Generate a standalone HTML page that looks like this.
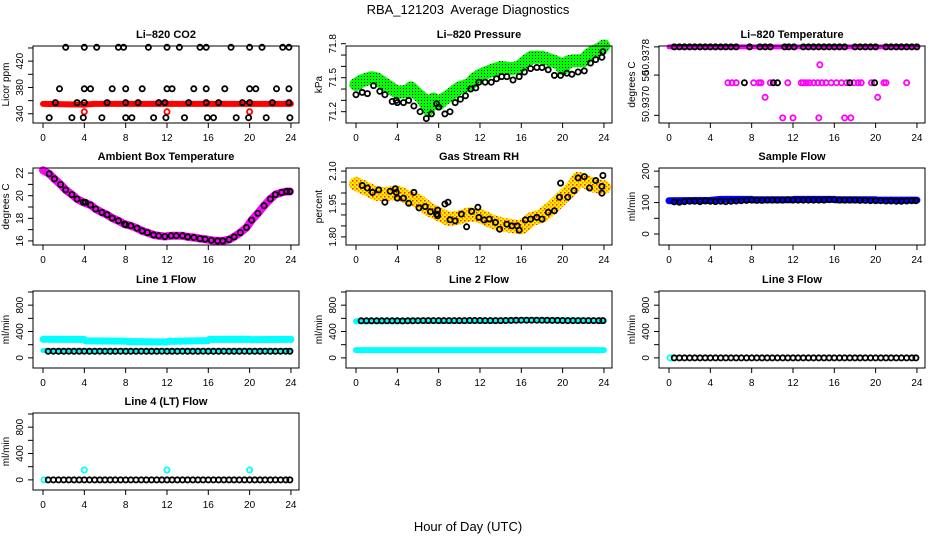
<!DOCTYPE html>
<html><head><meta charset="utf-8"><style>
html,body{margin:0;padding:0;background:#fff;}
svg{display:block;font-family:"Liberation Sans",sans-serif;}
</style></head><body>
<svg id="chart" width="936" height="540" viewBox="0 0 936 540">
<defs>
<pattern id="patGreen" width="3" height="3" patternUnits="userSpaceOnUse"><rect width="3" height="3" fill="#00ff00"/><rect x="1" y="1" width="1" height="1" fill="#000"/></pattern>
<pattern id="patOrange" width="4" height="4" patternUnits="userSpaceOnUse"><rect width="4" height="4" fill="#ffee00"/><rect x="0" y="0" width="1.5" height="1.5" fill="#ff2200"/><rect x="2" y="2" width="1.5" height="1.5" fill="#ff8800"/></pattern>
</defs>
<text x="468" y="14" text-anchor="middle" font-size="13" xml:space="preserve">RBA_121203  Average Diagnostics</text>
<text x="468" y="531" text-anchor="middle" font-size="13">Hour of Day (UTC)</text>
</svg>
<script>
// ---------- data ----------
const xTicks = [0,4,8,12,16,20,24];
const flowHours = [0.5,1,1.5,2,2.5,3,3.5,4,4.5,5,5.5,6,6.5,7,7.5,8,8.5,9,9.5,10,10.5,11,11.5,12,12.5,13,13.5,14,14.5,15,15.5,16,16.5,17,17.5,18,18.5,19,19.5,20,20.5,21,21.5,22,22.5,23,23.5,23.9];

// CO2
const co2TopHours = [2.2,4,5.2,7.3,7.8,10.2,12,13.2,15.2,15.8,18.2,20,21.2,23.2,23.8];
const co2TopVals = [441,441,441,441,441,441,441,441,441,441,441,441,441,441,441];
const co2HiHours = [1.6,4,4.6,6.7,8,9.6,12,12.5,14.6,15.8,17.6,20,20.6,22.6,23.8];
const co2HiVals = [378,378,378,378,378,378,378,378,378,378,378,378,378,378,378];
const co2MidHours = [1.2,3.3,4,6.2,8,9.2,11.2,11.8,14.1,15.8,17,19.3,20,22.2,23.8];
const co2MidVals = [357,357,357,357,357,357,357,357,357,357,357,357,357,357,357];
const co2LowHours = [0.6,2.8,3.9,5.7,8,8.6,10.7,11.9,13.7,15.9,16.5,18.7,19.9,21.6,23.9];
const co2LowVals = [334,334,334,334,334,334,334,334,334,334,334,334,334,334,334];
const co2RedHours = [4,12,20];
const co2RedVals = [343,343,343];
const co2BandHours = [0,4,5,24];
const co2BandVals = [355,354,355,355];

// Pressure
const presBandHours = [0,0.5,1.5,2,3,4,5,5.3,6,6.5,7,7.5,8,8.5,9,10,11,11.5,12,13,14,15,15.8,16,16.5,17,18,19,19.8,20,20.5,21,22,22.5,23,23.5,24];
const presBandVals = [71.44,71.47,71.50,71.49,71.43,71.37,71.38,71.41,71.35,71.31,71.22,71.31,71.27,71.31,71.34,71.41,71.44,71.49,71.52,71.56,71.59,71.58,71.59,71.61,71.65,71.68,71.68,71.65,71.62,71.58,71.64,71.65,71.65,71.70,71.73,71.75,71.78];
const presHours = [0,0.6,1.1,1.7,2.3,2.8,3.5,3.9,4,4.6,5.1,5.6,6.2,6.8,7.3,7.8,8,8.6,9.1,9.6,10.1,10.6,11.1,11.6,11.9,12.5,13.1,13.6,14.1,14.6,15.2,15.8,16.3,16.9,17.5,18,18.6,19.2,19.8,20.4,20.9,21.5,22.1,22.7,23.2,23.8,23.9];
const presVals = [71.35,71.37,71.36,71.43,71.38,71.35,71.29,71.30,71.28,71.28,71.30,71.25,71.20,71.14,71.18,71.27,71.24,71.18,71.20,71.28,71.31,71.34,71.40,71.41,71.46,71.46,71.46,71.49,71.51,71.51,71.48,71.51,71.55,71.58,71.59,71.59,71.57,71.52,71.52,71.54,71.53,71.55,71.56,71.63,71.66,71.68,71.73];

// Li-820 temperature
const ltBandHours = [0,24];
const ltBandVals = [50.9378,50.9378];
const ltTopHours = [0.5,1,1.5,2,2.5,3,3.5,4,4.5,5,5.5,6,6.5,7.8,8.8,9.3,9.8,11.2,11.6,12.1,13,13.5,14,14.5,15,15.5,16,16.5,17,18,18.5,19,19.5,20,21,21.5,22,22.5,23,23.5,24];
const ltTopVals = [50.9378,50.9378,50.9378,50.9378,50.9378,50.9378,50.9378,50.9378,50.9378,50.9378,50.9378,50.9378,50.9378,50.9378,50.9378,50.9378,50.9378,50.9378,50.9378,50.9378,50.9378,50.9378,50.9378,50.9378,50.9378,50.9378,50.9378,50.9378,50.9378,50.9378,50.9378,50.9378,50.9378,50.9378,50.9378,50.9378,50.9378,50.9378,50.9378,50.9378,50.9378];
const ltMagHours = [5.7,6.1,6.5,8.2,8.7,8.9,9.8,11.5,12.8,13,13.3,13.6,14,14.4,14.8,15.2,15.7,16.2,16.7,17.2,17.9,18.3,18.6,19.6,20.8,21,23,9.3,20.2,14.6,11,12,14.5,17,17.6];
const ltMagVals = [50.93738,50.93738,50.93738,50.93738,50.93738,50.93738,50.93738,50.93738,50.93738,50.93738,50.93738,50.93738,50.93738,50.93738,50.93738,50.93738,50.93738,50.93738,50.93738,50.93738,50.93738,50.93738,50.93738,50.93738,50.93738,50.93738,50.93738,50.93721,50.93721,50.93759,50.93697,50.93697,50.93697,50.93697,50.93697];
const ltBlkHours = [7.3,10.1,10.5,17.5,19.9];
const ltBlkVals = [50.93738,50.93738,50.93738,50.93738,50.93738];

// Ambient temperature
const ambBandHours = [0,0.6,1.1,1.7,2.2,2.8,3.3,3.9,4.6,5.1,5.7,6.2,6.7,7.3,7.9,8.5,9.1,9.6,10.1,10.7,11.2,11.8,12.4,12.9,13.5,14,14.6,15.2,15.7,16.3,16.9,17.4,18,18.5,19.1,19.7,20.2,20.8,21.4,22,22.5,23.1,23.6,23.9];
const ambBandVals = [22.25,21.94,21.49,20.99,20.51,20.10,19.71,19.42,19.18,18.82,18.52,18.32,18.02,17.78,17.49,17.34,17.13,16.89,16.74,16.53,16.45,16.39,16.45,16.45,16.45,16.36,16.30,16.21,16.15,16.06,16.0,16.0,16.12,16.36,16.74,17.19,17.84,18.44,19.12,19.71,20.10,20.28,20.37,20.37];
const ambHours = [0.6,1.1,1.7,2.2,2.8,3.3,3.9,4.1,4.6,5.1,5.7,6.2,6.7,7.3,7.9,8,8.5,9.1,9.6,10.1,10.7,11.2,11.8,12.4,12.9,13.5,14,14.6,15.2,15.7,16.3,16.9,17.4,18,18.5,19.1,19.7,20.2,20.8,21.4,22,22.5,23.1,23.6,23.9];
const ambVals = [21.94,21.49,20.99,20.51,20.10,19.71,19.42,19.42,19.18,18.82,18.52,18.32,18.02,17.78,17.49,17.43,17.34,17.13,16.89,16.74,16.53,16.45,16.39,16.45,16.45,16.45,16.36,16.30,16.21,16.15,16.06,16.0,16.0,16.12,16.36,16.74,17.19,17.84,18.44,19.12,19.71,20.10,20.28,20.37,20.37];

// Gas stream RH
const rhBandHours = [0,1,2,3,4,5,6,7,8,9,10,11,12,13,14,15,16,17,18,19,20,21,21.5,22,23,24];
const rhBandVals = [2.042,2.019,1.996,1.996,2.003,1.981,1.965,1.927,1.904,1.881,1.889,1.904,1.896,1.873,1.858,1.850,1.843,1.881,1.896,1.935,1.981,2.026,2.065,2.057,2.034,2.026];
const rhHours = [0.6,1.1,1.6,2.2,2.8,3.3,3.8,3.9,4,4.6,5.1,5.6,6.1,6.7,7.2,7.8,7.9,7.9,8.6,8.9,9.1,9.6,10.2,10.7,11.2,11.8,11.9,12.4,12.9,13.5,13.9,14.6,15.1,15.6,15.8,16.4,16.9,17.5,18,18.6,19.2,19.7,19.8,20.5,21.1,21.5,22.1,22.6,23.2,23.8,23.8,23.9];
const rhVals = [2.034,2.023,2.003,2.014,1.958,2.008,2.019,2.003,1.977,1.977,1.953,2.003,1.932,1.938,1.915,1.904,1.922,1.896,1.950,1.958,1.878,1.873,1.904,1.846,1.916,1.935,1.889,1.877,1.881,1.866,1.835,1.858,1.850,1.850,1.831,1.877,1.881,1.889,1.881,1.912,1.919,1.981,2.045,1.981,2.011,2.069,2.075,2.023,2.057,1.999,2.030,2.080];

// Sample flow
const sfBandHours = [0,4,5,8,8.1,12,12.1,16,16.1,20,20.1,24];
const sfBandVals = [106,107,110,110,109,109,110,110,109,109,108,108];
const sfVals = [102,101,103,104,104,103,105,104,103,104,103,104,105,106,107,108,107,107,108,108,108,108,109,108,108,108,108,108,108,108,109,109,108,108,108,108,107,107,106,106,106,105,105,104,104,105,106,106];

// Line flows
const l1BandHours = [0,4,4.1,8,8.1,12,12.1,16,16.1,20,20.1,24];
const l1BandVals = [282,278,258,255,248,240,250,262,280,282,275,280];
const l1LowHours = [0,24];
const l1LowVals = [112,112];
const l1Vals = [100,101,100,100,101,100,100,101,100,100,101,100,100,100,101,100,100,100,101,100,100,100,101,100,100,100,101,100,100,100,101,100,100,100,101,100,100,100,101,100,100,100,101,100,100,100,101,100];
const l2BandHours = [0,4,5.5,8,12,16,16.5,20,20.5,24];
const l2BandVals = [555,555,565,560,560,570,575,565,570,560];
const l2LowHours = [0,24];
const l2LowVals = [118,118];
const l2Vals = [562,563,562,563,562,563,562,562,561,562,563,564,565,566,566,566,566,566,566,566,566,567,567,567,566,566,566,566,567,568,570,572,572,572,571,570,570,569,568,567,566,566,565,565,565,565,566,566];
const l3CyanHours = [0.1];
const l3CyanVals = [0];
const l3Vals = [0,0,0,0,0,0,0,0,0,0,0,0,0,0,0,0,0,0,0,0,0,0,0,0,0,0,0,0,0,0,0,0,0,0,0,0,0,0,0,0,0,0,0,0,0,0,0,0];
const l4CyanHours = [0.1,4,12,20];
const l4CyanVals = [0,150,150,150];
const l4Vals = [0,0,0,0,0,0,0,0,0,0,0,0,0,0,0,0,0,0,0,0,0,0,0,0,0,0,0,0,0,0,0,0,0,0,0,0,0,0,0,0,0,0,0,0,0,0,0,0];

// ---------- drawing ----------
const svg = document.getElementById('chart');
const NS = 'http://www.w3.org/2000/svg';
function mk(tag, attrs, parent){ const e=document.createElementNS(NS,tag); for(const k in attrs) e.setAttribute(k,attrs[k]); (parent||svg).appendChild(e); return e; }

const colLeft = [33,346,659];
const rowTop = [46,168,291,413];
const W = 266, H = 77;
const X0 = -0.97, X1 = 24.78;

function panel(cfg){
  const L = colLeft[cfg.col], T = rowTop[cfg.row];
  const g = mk('g',{});
  
  
  const xs = h => L + (h - X0)/(X1 - X0)*W;
  const ys = v => T + H - (v - cfg.yMin)/(cfg.yMax - cfg.yMin)*H;
  cfg.layers.forEach(ly => {
    if (ly.type === 'band') {
      const pts = ly.x.map((h,i)=> xs(h).toFixed(1)+','+ys(ly.y[i]).toFixed(1)).join(' ');
      const pl = mk('polyline',{points:pts,fill:'none',stroke:ly.color,'stroke-width':ly.w,'stroke-linecap':'round','stroke-linejoin':'round'},g);
      
      
    } else {
      const pg = mk('g',{},g);
      
      
      ly.x.forEach((h,i)=>{
        const c = mk('circle',{cx:xs(h).toFixed(1),cy:ys(ly.y[i]).toFixed(1),r:2.6,fill:'none',stroke:ly.color,'stroke-width':1.8},pg);
        
        
      });
    }
  });
  const box = mk('rect',{x:L,y:T,width:W,height:H,fill:'none',stroke:'#000','stroke-width':1},g);
  
  
  const xa = mk('g',{},g);
  
  
  xTicks.forEach(t=>{
    mk('line',{x1:xs(t),x2:xs(t),y1:T+H,y2:T+H+5,stroke:'#000'},xa);
    const tx = mk('text',{x:xs(t),y:T+H+18,'text-anchor':'middle','font-size':10},xa);
    tx.textContent = t;
    
    
  });
  const ya = mk('g',{},g);
  
  
  cfg.yTicks.forEach(t=>{
    mk('line',{x1:L,x2:L-5,y1:ys(t),y2:ys(t),stroke:'#000'},ya);
  });
  cfg.yLabels.forEach((lab,i)=>{
    const yy = cfg.yLabelPos ? cfg.yLabelPos[i] : ys(cfg.yLabelVals[i]);
    const tx = mk('text',{x:L-10,y:yy,'text-anchor':'middle','font-size':10,transform:'rotate(-90 '+(L-10)+' '+yy+')'},ya);
    tx.textContent = lab;
    
    
  });
  const yl = mk('text',{x:L-24,y:T+H/2,'text-anchor':'middle','font-size':10,transform:'rotate(-90 '+(L-24)+' '+(T+H/2)+')'},g);
  yl.textContent = cfg.ylab;
  
  
  const tt = mk('text',{x:L+W/2,y:T-8,'text-anchor':'middle','font-size':11,'font-weight':'bold'},g);
  tt.textContent = cfg.title;
  
  
}

const flowTicks = [0,200,400,600,800,1000];
const flowLabs = ['0','400','800'];
const flowLabVals = [0,400,800];

panel({name:'co2-panel',col:0,row:0,title:'Li\u2013820 CO2',ylab:'Licor ppm',yMin:326,yMax:443,
  yTicks:[340,360,380,400,420,440],yLabels:['340','380','420'],yLabelVals:[340,380,420],
  layers:[
    {type:'band',name:'co2-red-band',x:co2BandHours,y:co2BandVals,color:'#ff0000',w:6},
    {type:'pts',name:'co2-red-points',x:co2RedHours,y:co2RedVals,color:'#ff0000'},
    {type:'pts',name:'co2-points-440',x:co2TopHours,y:co2TopVals,color:'#000'},
    {type:'pts',name:'co2-points-378',x:co2HiHours,y:co2HiVals,color:'#000'},
    {type:'pts',name:'co2-points-357',x:co2MidHours,y:co2MidVals,color:'#000'},
    {type:'pts',name:'co2-points-334',x:co2LowHours,y:co2LowVals,color:'#000'}
  ]});
panel({name:'pressure-panel',col:1,row:0,title:'Li\u2013820 Pressure',ylab:'kPa',yMin:71.10,yMax:71.78,
  yTicks:[71.2,71.3,71.4,71.5,71.6,71.7,71.8],yLabels:['71.2','71.5','71.8'],yLabelVals:[71.2,71.5,71.8],
  layers:[
    {type:'band',name:'pressure-green-band',x:presBandHours,y:presBandVals,color:'url(#patGreen)',w:13},
    {type:'pts',name:'pressure-points',x:presHours,y:presVals,color:'#000'}
  ]});
panel({name:'li820-temperature-panel',col:2,row:0,title:'Li\u2013820 Temperature',ylab:'degrees C',yMin:50.93691,yMax:50.93781,
  yTicks:[50.9378,50.93747,50.9370],yLabels:['50.9378','50','50.9370'],yLabelPos:[57,76,104],
  layers:[
    {type:'band',name:'temp-magenta-band',x:ltBandHours,y:ltBandVals,color:'#ff00ff',w:5},
    {type:'pts',name:'temp-magenta-points',x:ltMagHours,y:ltMagVals,color:'#ff00ff'},
    {type:'pts',name:'temp-black-top-points',x:ltTopHours,y:ltTopVals,color:'#000'},
    {type:'pts',name:'temp-black-points',x:ltBlkHours,y:ltBlkVals,color:'#000'}
  ]});
panel({name:'ambient-temperature-panel',col:0,row:1,title:'Ambient Box Temperature',ylab:'degrees C',yMin:15.64,yMax:22.45,
  yTicks:[16,17,18,19,20,21,22],yLabels:['16','18','20','22'],yLabelVals:[16,18,20,22],
  layers:[
    {type:'band',name:'ambient-magenta-band',x:ambBandHours,y:ambBandVals,color:'#ff00ff',w:8},
    {type:'pts',name:'ambient-points',x:ambHours,y:ambVals,color:'#000'}
  ]});
panel({name:'rh-panel',col:1,row:1,title:'Gas Stream RH',ylab:'percent',yMin:1.763,yMax:2.114,
  yTicks:[1.80,1.85,1.90,1.95,2.00,2.05,2.10],yLabels:['1.80','1.95','2.10'],yLabelVals:[1.80,1.95,2.10],
  layers:[
    {type:'band',name:'rh-orange-band',x:rhBandHours,y:rhBandVals,color:'url(#patOrange)',w:14},
    {type:'pts',name:'rh-points',x:rhHours,y:rhVals,color:'#000'}
  ]});
panel({name:'sample-flow-panel',col:2,row:1,title:'Sample Flow',ylab:'ml/min',yMin:-35,yMax:210,
  yTicks:[0,50,100,150,200],yLabels:['0','100','200'],yLabelVals:[0,100,200],
  layers:[
    {type:'band',name:'sample-flow-blue-band',x:sfBandHours,y:sfBandVals,color:'#0000ff',w:7},
    {type:'pts',name:'sample-flow-points',x:flowHours,y:sfVals,color:'#000'}
  ]});
panel({name:'line1-flow-panel',col:0,row:2,title:'Line 1 Flow',ylab:'ml/min',yMin:-154,yMax:1015,
  yTicks:flowTicks,yLabels:flowLabs,yLabelVals:flowLabVals,
  layers:[
    {type:'band',name:'line1-cyan-band',x:l1BandHours,y:l1BandVals,color:'#00ffff',w:7},
    {type:'band',name:'line1-cyan-low-band',x:l1LowHours,y:l1LowVals,color:'#00ffff',w:5},
    {type:'pts',name:'line1-points',x:flowHours,y:l1Vals,color:'#000'}
  ]});
panel({name:'line2-flow-panel',col:1,row:2,title:'Line 2 Flow',ylab:'ml/min',yMin:-154,yMax:1015,
  yTicks:flowTicks,yLabels:flowLabs,yLabelVals:flowLabVals,
  layers:[
    {type:'band',name:'line2-cyan-band',x:l2BandHours,y:l2BandVals,color:'#00ffff',w:6},
    {type:'band',name:'line2-cyan-low-band',x:l2LowHours,y:l2LowVals,color:'#00ffff',w:6},
    {type:'pts',name:'line2-points',x:flowHours,y:l2Vals,color:'#000'}
  ]});
panel({name:'line3-flow-panel',col:2,row:2,title:'Line 3 Flow',ylab:'ml/min',yMin:-154,yMax:1015,
  yTicks:flowTicks,yLabels:flowLabs,yLabelVals:flowLabVals,
  layers:[
    {type:'pts',name:'line3-cyan-points',x:l3CyanHours,y:l3CyanVals,color:'#00ffff'},
    {type:'pts',name:'line3-points',x:flowHours,y:l3Vals,color:'#000'}
  ]});
panel({name:'line4-flow-panel',col:0,row:3,title:'Line 4 (LT) Flow',ylab:'ml/min',yMin:-154,yMax:1015,
  yTicks:flowTicks,yLabels:flowLabs,yLabelVals:flowLabVals,
  layers:[
    {type:'pts',name:'line4-cyan-points',x:l4CyanHours,y:l4CyanVals,color:'#00ffff'},
    {type:'pts',name:'line4-points',x:flowHours,y:l4Vals,color:'#000'}
  ]});
</script>
</body></html>
